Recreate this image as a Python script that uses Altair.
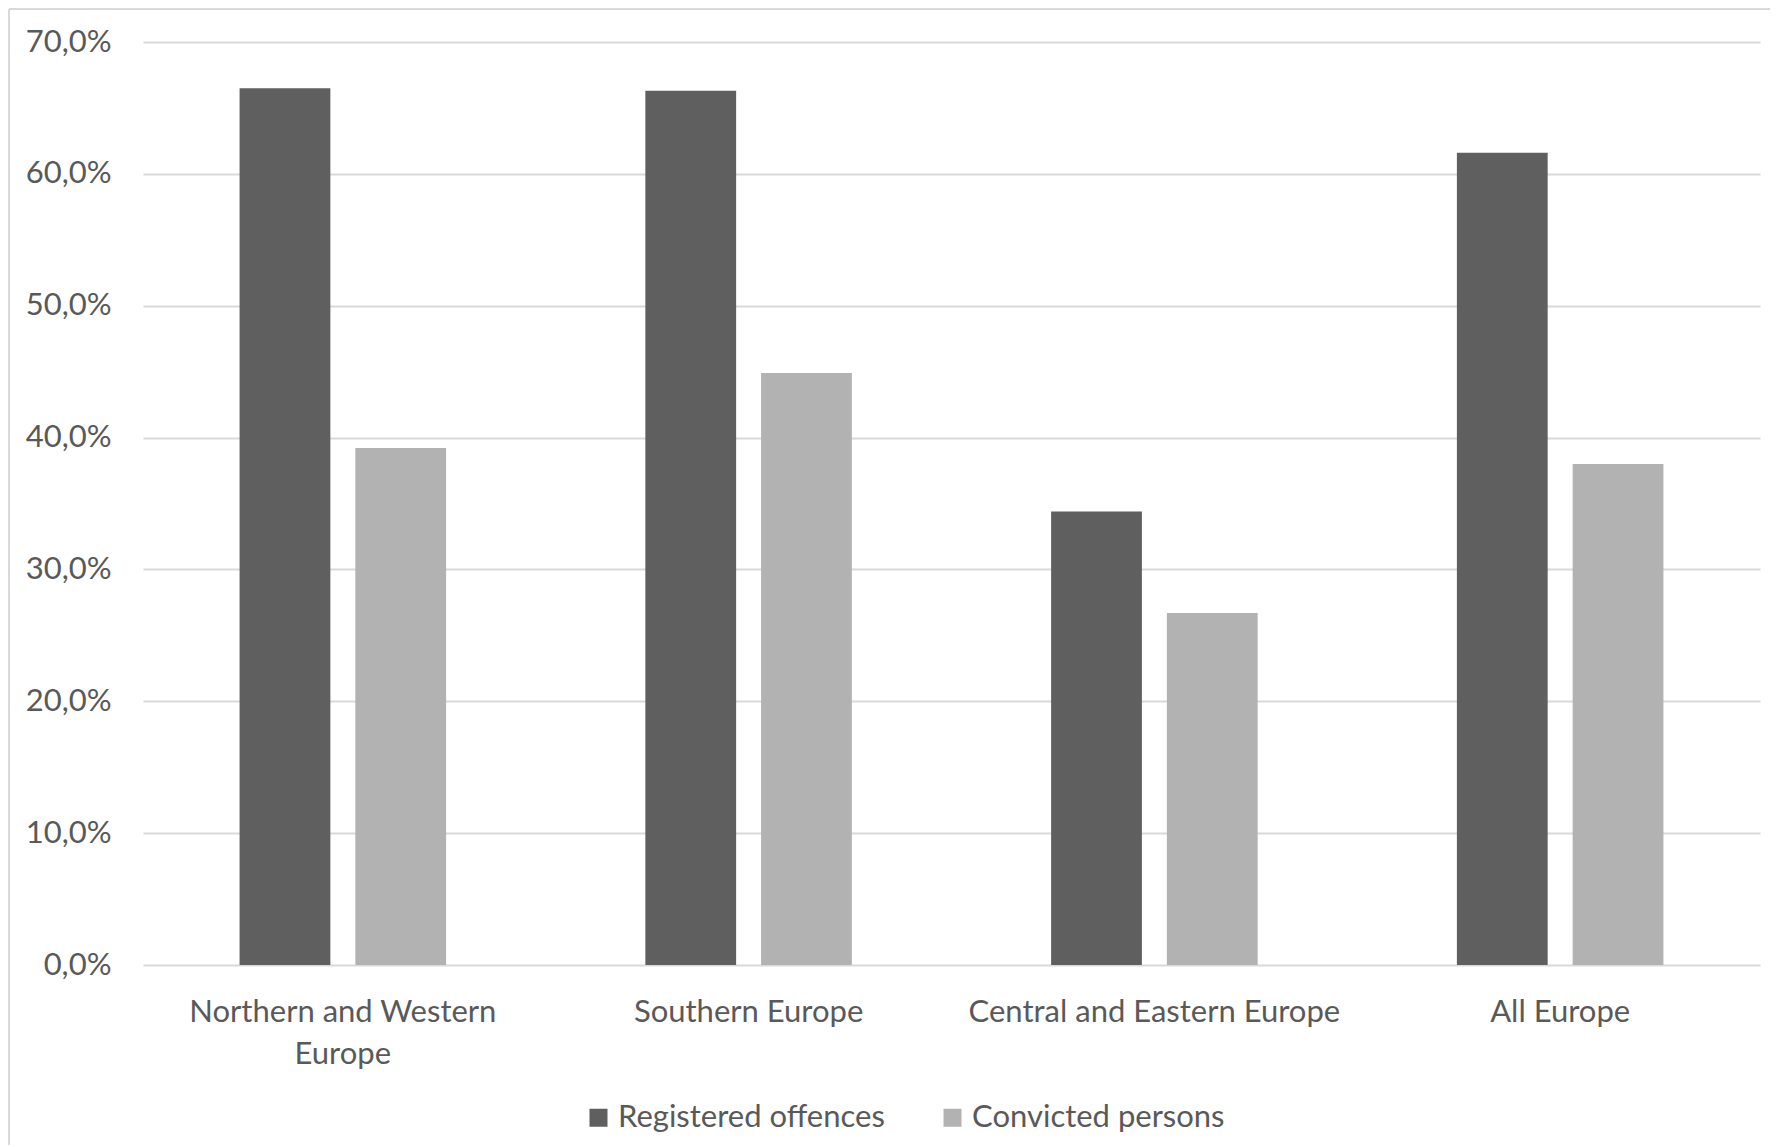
import altair as alt
import pandas as pd

regions = ["Northern and Western Europe", "Southern Europe", "Central and Eastern Europe", "All Europe"]
series = ["Registered offences", "Convicted persons"]
registered = [66.5, 66.3, 34.4, 61.6]
convicted = [39.2, 44.9, 26.7, 38.0]
y_ticks = [0, 10, 20, 30, 40, 50, 60, 70]
colors = ["#5f5f5f", "#b2b2b2"]

rows = []
for r, a, b in zip(regions, registered, convicted):
    rows.append({"region": r, "series": series[0], "value": a})
    rows.append({"region": r, "series": series[1], "value": b})
df = pd.DataFrame(rows)

FONT = "Lato"
TXT = "#595959"
W, H = 1617, 923

bars = alt.Chart(df).mark_bar().encode(
    x=alt.X("region:N", sort=regions,
            scale=alt.Scale(paddingInner=0.491, paddingOuter=0.238),
            axis=alt.Axis(title=None, labelAngle=0, ticks=False, domain=False,
                          labelFontSize=31, labelColor=TXT, labelFont=FONT,
                          labelPadding=32, labelLineHeight=42, labelLimit=0,
                          labelExpr="datum.label == 'Northern and Western Europe' ? ['Northern and Western', 'Europe'] : datum.label")),
    xOffset=alt.XOffset("series:N", sort=series,
                        scale=alt.Scale(paddingInner=0.2157, paddingOuter=0)),
    y=alt.Y("value:Q", scale=alt.Scale(domain=[0, 70], nice=False),
            axis=alt.Axis(title=None, values=y_ticks, ticks=False, domain=False,
                          grid=True, gridColor="#d9d9d9", gridWidth=2,
                          labelFontSize=31, labelColor=TXT, labelFont=FONT,
                          labelPadding=32,
                          labelExpr="replace(format(datum.value, '.1f'), '.', ',') + '%'")),
    color=alt.Color("series:N", sort=series,
                    scale=alt.Scale(domain=series, range=colors),
                    legend=alt.Legend(title=None, orient="none", direction="horizontal",
                                      legendX=440, legendY=1060,
                                      symbolType="square", symbolSize=324,
                                      symbolStrokeWidth=0, labelFontSize=31,
                                      labelFont=FONT, labelColor=TXT, labelOffset=4,
                                      labelLimit=0, columnPadding=52)),
)

border_data = alt.Data(values=[{"k": 1}])
top_line = alt.Chart(border_data).mark_rule(color="#d9d9d9", strokeWidth=2).encode(
    x=alt.value(-134), x2=alt.value(W + 300), y=alt.value(-33))
left_line = alt.Chart(border_data).mark_rule(color="#d9d9d9", strokeWidth=2).encode(
    x=alt.value(-134), y=alt.value(-33), y2=alt.value(H + 400))

chart = alt.layer(bars, top_line, left_line).properties(
    width=W, height=H,
    autosize=alt.AutoSizeParams(type="none"),
    padding={"left": 135, "top": 34, "right": 10, "bottom": 180},
).configure(background="white").configure_view(stroke=None)

chart.save("out.html", embed_options={"renderer": "svg", "actions": False})
